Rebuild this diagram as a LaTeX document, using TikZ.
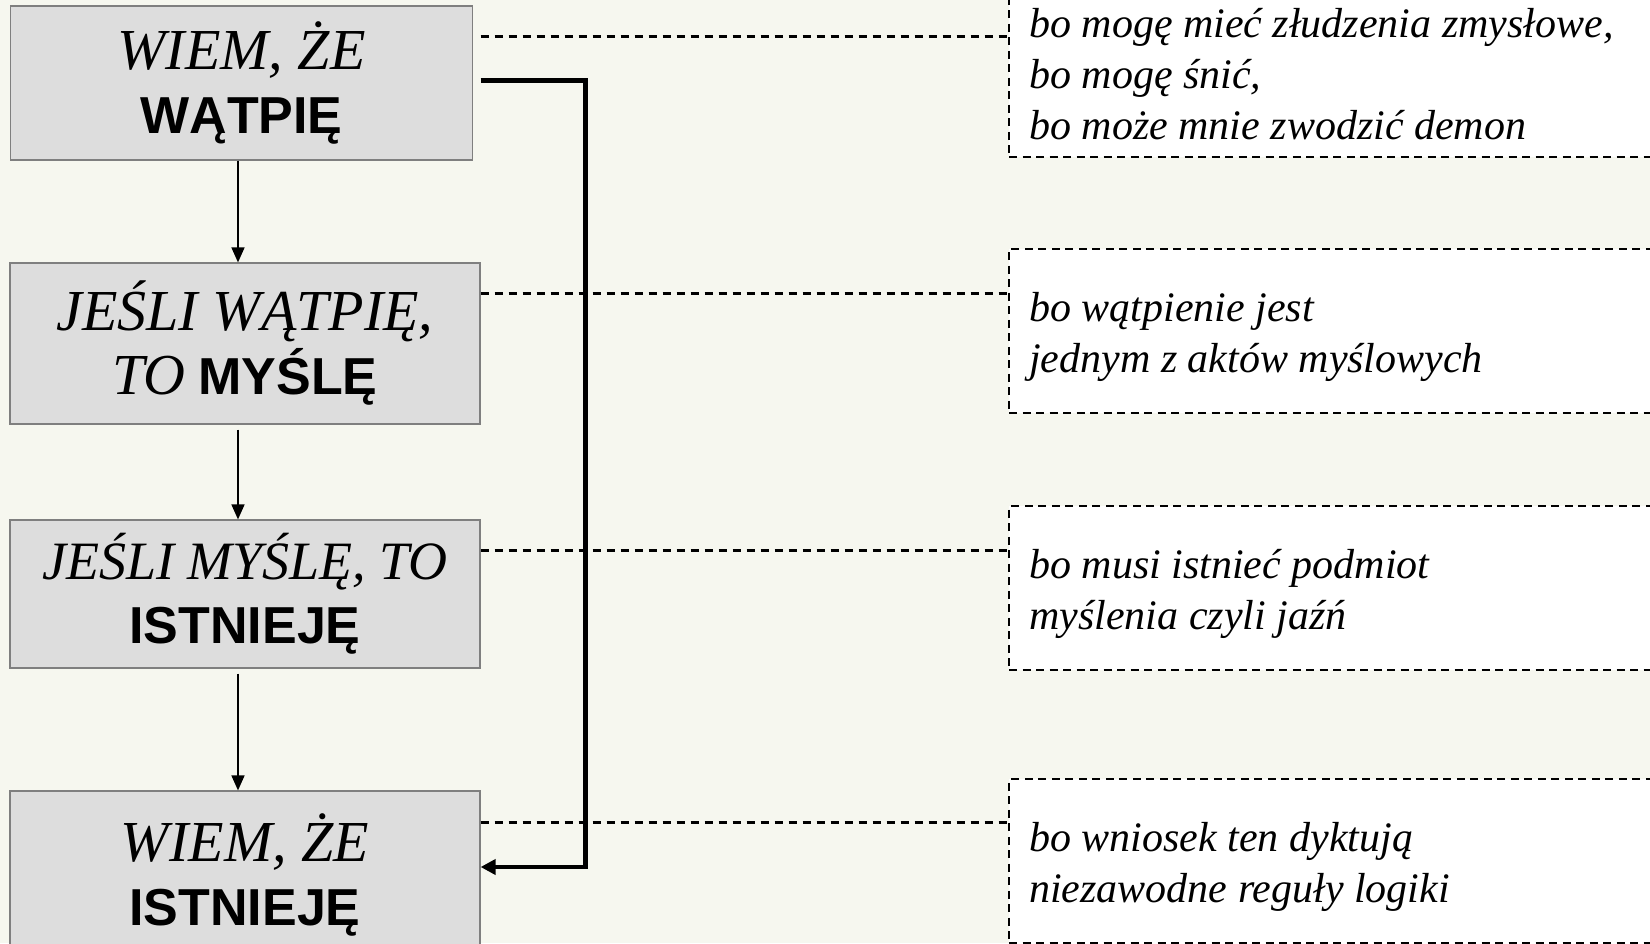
\documentclass[tikz,border=0pt]{standalone}
\usepackage{fontspec}
\setmainfont{Liberation Serif}
\newfontfamily\arialfam{Liberation Sans}
\usetikzlibrary{arrows.meta,calc}
\definecolor{bgc}{HTML}{F6F7EF}
\definecolor{boxfill}{HTML}{DDDDDD}
\definecolor{boxline}{HTML}{7F7F7F}
\newcommand{\serit}[1]{{\fontsize{58}{64}\selectfont\itshape #1}}
\newcommand{\seritsm}[1]{{\fontsize{54}{64}\selectfont\itshape #1}}
\newcommand{\sansbd}[1]{{\fontsize{52}{64}\selectfont\arialfam\bfseries #1}}
\tikzset{
  leftbox/.style={draw=boxline, line width=1.2pt, fill=boxfill, align=center, inner sep=0pt,
    font=\fontsize{52}{64}\selectfont},
  notebox/.style={draw=black, line width=2pt, dash pattern=on 8pt off 5.5pt, fill=white,
    minimum width=652pt, minimum height=164pt, inner sep=0pt},
  notetext/.style={anchor=west, align=left, inner sep=0pt,
    font=\fontsize{42}{51}\selectfont\itshape},
  conn/.style={black, line width=2.4pt, dash pattern=on 8pt off 6pt},
  downarrow/.style={black, line width=1.6pt, -{Triangle[length=15pt,width=13pt]}},
  backarrow/.style={black, line width=4.5pt, -{Triangle[length=15pt,width=15pt]}}
}
\begin{document}
\begin{tikzpicture}[x=1pt,y=-1pt]
\fill[bgc] (0,0) rectangle (1650,943);
\useasboundingbox (0,0) rectangle (1650,943);
\clip (0,0) rectangle (1650,943);

% left boxes
\node[leftbox, minimum width=462pt, minimum height=154pt] (b1) at (241.5,83)
  {\serit{WIEM, ŻE}\\\sansbd{WĄTPIĘ}};
\node[leftbox, minimum width=470pt, minimum height=161pt] (b2) at (245,343.5)
  {\serit{JEŚLI WĄTPIĘ,}\\\serit{TO} \sansbd{MYŚLĘ}};
\node[leftbox, minimum width=470pt, minimum height=148pt] (b3) at (245,594)
  {\seritsm{JEŚLI MYŚLĘ, TO}\\\sansbd{ISTNIEJĘ}};
\node[leftbox, minimum width=470pt, minimum height=168pt] (b4) at (245,875)
  {\serit{WIEM, ŻE}\\\sansbd{ISTNIEJĘ}};

% right note boxes
\node[notebox] (r1) at (1335,75) {};
\node[notebox] (r2) at (1335,330.5) {};
\node[notebox] (r3) at (1335,588) {};
\node[notebox] (r4) at (1335,861) {};
\node[notetext] (r1t) at ([xshift=21pt,yshift=1pt]r1.west)
  {bo mogę mieć złudzenia zmysłowe,\\bo mogę śnić,\\bo może mnie zwodzić demon};
\node[notetext] (r2t) at ([xshift=21pt,yshift=-6pt]r2.west)
  {bo wątpienie jest\\jednym z aktów myślowych};
\node[notetext] (r3t) at ([xshift=21pt,yshift=-6pt]r3.west)
  {bo musi istnieć podmiot\\myślenia czyli jaźń};
\node[notetext] (r4t) at ([xshift=21pt,yshift=-6pt]r4.west)
  {bo wniosek ten dyktują\\niezawodne reguły logiki};

% dashed connectors
\coordinate (d1) at ([xshift=7.5pt,yshift=-31pt]b1.north east);
\coordinate (d2) at ([yshift=-31pt]b2.north east);
\coordinate (d3) at ([yshift=-31pt]b3.north east);
\coordinate (d4) at ([yshift=-32pt]b4.north east);
\draw[conn] (d1) -- (d1 -| r1.west);
\draw[conn] (d2) -- (d2 -| r2.west);
\draw[conn] (d3) -- (d3 -| r3.west);
\draw[conn] (d4) -- (d4 -| r4.west);

% down arrows
\draw[downarrow] ([xshift=-3.5pt]b1.south) -- ([xshift=-7pt]b2.north);
\draw[downarrow] ([xshift=-7pt,yshift=-5pt]b2.south) -- ([xshift=-7pt]b3.north);
\draw[downarrow] ([xshift=-7pt,yshift=-5pt]b3.south) -- ([xshift=-7pt]b4.north);

% thick return connector
\coordinate (t0) at ([xshift=7.5pt,yshift=-75pt]b1.north east);
\coordinate (t1) at ([yshift=8pt]b4.east);
\draw[backarrow] (t0) -- ++(105pt,0) |- (t1);
\end{tikzpicture}
\end{document}
